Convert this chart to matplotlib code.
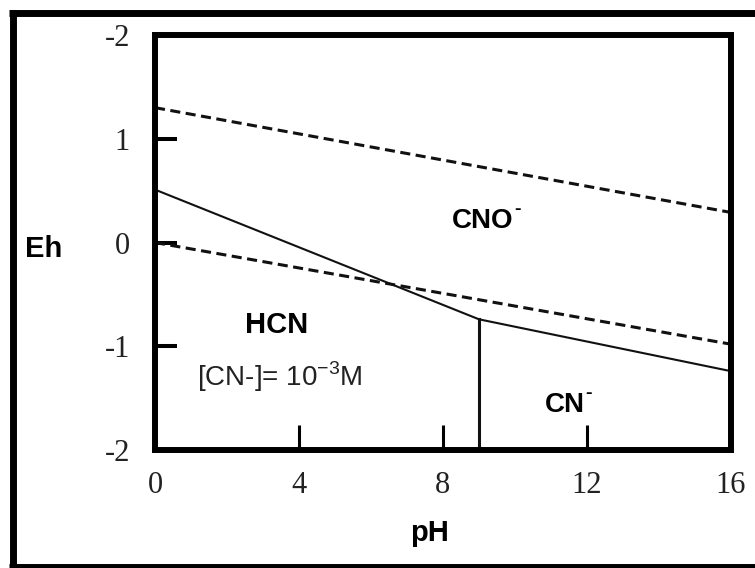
import matplotlib
matplotlib.use('Agg')
import matplotlib.pyplot as plt
from matplotlib.lines import Line2D

plt.rcParams['mathtext.fontset'] = 'custom'
plt.rcParams['mathtext.rm'] = 'Liberation Sans'
plt.rcParams['mathtext.bf'] = 'Liberation Sans:bold'

# data (pH, Eh in V)
ph_ends = [0, 16]
water_upper = [1.30, 0.29]
water_lower = [0.0, -0.98]
cno_ph = [0, 9.0, 16]
cno_eh = [0.51, -0.74, -1.24]
pka_ph = 9.0
x_ticks = [0, 4, 8, 12, 16]
y_ticks = [-2, -1, 0, 1, 2]
y_ticklabels = ['-2', '-1', '0', '1', '-2']  # top label is "-2" in the original

fig = plt.figure(figsize=(7.55, 5.68), dpi=100)
fig.patch.set_facecolor('white')
ax = fig.add_axes([0.2053, 0.2077, 0.7629, 0.7306])

# water stability lines
ax.plot(ph_ends, water_upper, color='#111', lw=2.2, dashes=(3.3, 1.8))
ax.plot(ph_ends, water_lower, color='#111', lw=2.2, dashes=(3.3, 1.8))
# CNO- / HCN, CN- boundary
ax.plot(cno_ph, cno_eh, color='#111', lw=1.5)
ax.plot([pka_ph, pka_ph], [cno_eh[1], -2], color='#111', lw=2.2)

ax.set_xlim(0, 16)
ax.set_ylim(-2, 2)
ax.set_xticks(x_ticks)
ax.set_yticks(y_ticks)
ax.set_yticklabels(y_ticklabels)

for sp in ax.spines.values():
    sp.set_linewidth(4.3)
    sp.set_color('black')

ax.tick_params(axis='y', direction='in', length=16, width=2.9, pad=18,
               labelsize=22, labelcolor='#222')
ax.tick_params(axis='x', direction='in', length=18, width=2.2, pad=15,
               labelsize=22, labelcolor='#222')
for lab in ax.get_xticklabels() + ax.get_yticklabels():
    lab.set_family('Liberation Serif')

ax.set_ylabel('Eh', rotation=0, family='Liberation Sans', fontweight='bold',
              fontsize=21, ha='center', va='center')
ax.yaxis.set_label_coords(-0.193, 0.484)
ax.set_xlabel('pH', family='Liberation Sans', fontweight='bold',
              fontsize=21, ha='center', va='center')
ax.xaxis.set_label_coords(0.477, -0.2)

# region labels
ax.text(3.39, -0.795, 'HCN', family='Liberation Sans', fontweight='bold',
        fontsize=21, ha='center', va='center')
ax.text(1.17, -1.296, '[CN-]= 10$^{\\mathrm{-3}}$M', family='Liberation Sans',
        fontsize=20, ha='left', va='center', color='#222')
t1 = ax.text(8.25, 0.207, 'CNO', family='Liberation Sans',
             fontweight='bold', fontsize=20, ha='left', va='center')
t2 = ax.text(10.83, -1.566, 'CN', family='Liberation Sans',
             fontweight='bold', fontsize=20, ha='left', va='center')
for t in (t1, t2):
    ax.annotate('-', xy=(1, 1), xycoords=t, xytext=(0.5, 5),
                textcoords='offset points', family='Liberation Sans',
                fontweight='bold', fontsize=14, ha='left', va='top')

# outer frame (right side falls outside the picture)
W, H = 755, 568
frame = dict(transform=fig.transFigure, color='black', lw=5,
             solid_capstyle='butt')
fig.add_artist(Line2D([12.7 / W, 12.7 / W], [1 - 9.5 / H, 1 - 570 / H], **frame))
fig.add_artist(Line2D([9.2 / W, 1.01], [1 - 13 / H, 1 - 13 / H], **frame))
fig.add_artist(Line2D([9.2 / W, 1.01], [1 - 566.5 / H, 1 - 566.5 / H], **frame))

fig.savefig('out.png', dpi=100, facecolor='white')
